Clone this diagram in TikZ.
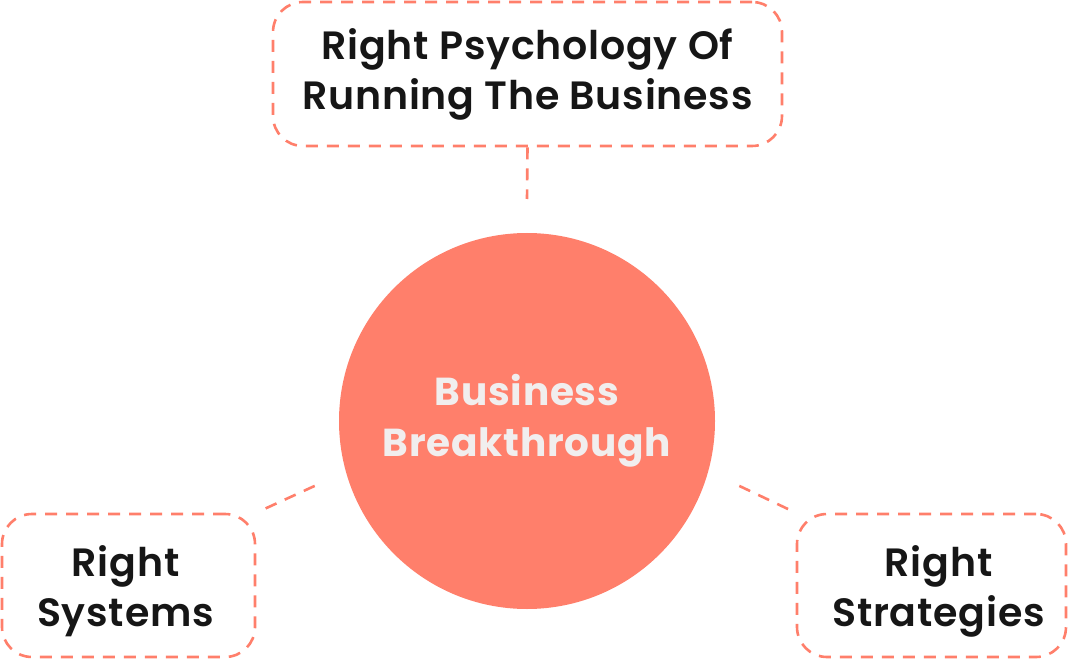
\documentclass[tikz,border=0pt]{standalone}
\usepackage{fontspec}
\setmainfont{Poppins}[UprightFont=* SemiBold, BoldFont=* Bold, LetterSpace=2]
\usepackage{xcolor}
\usetikzlibrary{calc}
\definecolor{coral}{HTML}{FF7F6B}
\definecolor{ink}{HTML}{161616}
\definecolor{paper}{HTML}{F1EEEE}

\begin{document}
\begin{tikzpicture}[
            x=1pt,
            y=-1pt,
            line cap=butt,
            line join=round,
            pillar/.style={draw=coral, line width=2.6pt,
                           dash pattern=on 12pt off 9pt,
                           rounded corners=30pt, inner sep=0pt},
            caption/.style={align=center, text=ink, inner sep=0pt,
                            font=\fontsize{39.5}{50}\selectfont},
            link/.style={draw=coral, line width=2.6pt,
                         dash pattern=on 12pt off 9pt}
        ]

        % Canvas
        \useasboundingbox (0,0) rectangle (1068,660);

        % Central circle
        \node[circle, fill=coral, minimum size=376pt, inner sep=0pt,
              outer sep=34pt, align=center, text=paper,
              font=\fontsize{39}{51}\selectfont\bfseries]
            (core) at (527,421) {Business\\Breakthrough};

        % Pillar boxes
        \node[pillar, minimum width=509pt, minimum height=144pt]
            (psych) at (527.5,74) {};
        \node[pillar, minimum width=253pt, minimum height=143pt]
            (sys) at (128.5,585.5) {};
        \node[pillar, minimum width=269pt, minimum height=143pt]
            (strat) at (931.5,585.5) {};

        % Pillar captions
        \node[caption] (psychtxt) at (psych.center) {Right Psychology Of\\Running The Business};
        \node[caption] (systxt) at ($(sys.center)+(-3,6)$) {Right\\Systems};
        \node[caption] (strattxt) at ($(strat.center)+(7,6)$) {Right\\Strategies};

        % Dashed links
        \draw[link] (psych.south) -- (core.north);
        \draw[link, shorten >=5pt] (core.197) -- (sys.north east);
        \draw[link, shorten >=5pt] (core.-17) -- (strat.north west);

        \end{tikzpicture}
\end{document}
